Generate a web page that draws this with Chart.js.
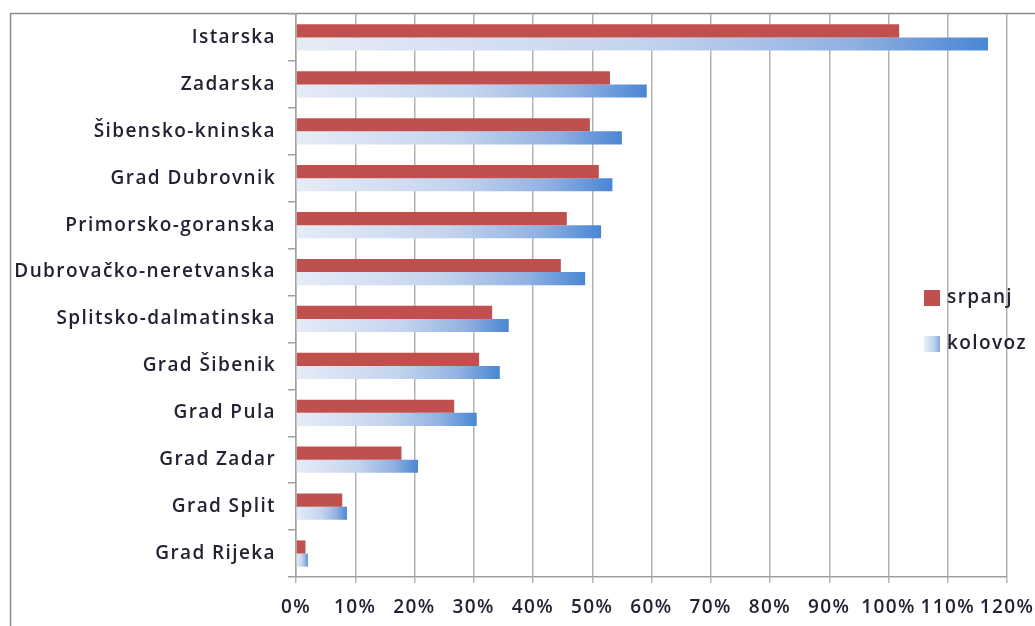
<!DOCTYPE html>
<html>
<head>
<meta charset="utf-8">
<script src="https://cdn.jsdelivr.net/npm/chart.js@4/dist/chart.umd.min.js"></script>
<style>
  body { margin: 0; background: #fff; }
  #wrap { width: 1035px; height: 626px; }
</style>
</head>
<body>
<div id="wrap"><canvas id="myChart" width="1035" height="626"></canvas></div>
<script>
// podaci s grafikona
var categories = ['Istarska', 'Zadarska', 'Šibensko-kninska', 'Grad Dubrovnik', 'Primorsko-goranska',
    'Dubrovačko-neretvanska', 'Splitsko-dalmatinska', 'Grad Šibenik', 'Grad Pula', 'Grad Zadar',
    'Grad Split', 'Grad Rijeka'];
var srpanj = [101.8, 53.0, 49.6, 51.1, 45.7, 44.7, 33.1, 30.9, 26.7, 17.8, 7.8, 1.6];
var kolovoz = [116.8, 59.2, 55.0, 53.4, 51.5, 48.8, 35.9, 34.4, 30.5, 20.6, 8.6, 2.0];
var seriesNames = ['srpanj', 'kolovoz'];
var xTicks = [0, 10, 20, 30, 40, 50, 60, 70, 80, 90, 100, 110, 120];

var FONT = '"Open Sans"';
var FSIZE = 19;
var FWEIGHT = 600;
var SPACING = '1.4px';
var textColor = '#222233';
var red = '#C0504D';

function blueGradient(ctx, x0, x1) {
    var g = ctx.createLinearGradient(x0, 0, x1, 0);
    g.addColorStop(0, '#e6ecf7');
    g.addColorStop(0.5, '#c4d4ee');
    g.addColorStop(0.8, '#91b1e1');
    g.addColorStop(1, '#4a86d4');
    return g;
}

// razmak slova (tekst je u originalu dosta širok)
var spacing = {
    id: 'spacing',
    beforeUpdate: function (chart) { chart.ctx.letterSpacing = SPACING; },
    beforeDraw: function (chart) { chart.ctx.letterSpacing = SPACING; }
};

// okvir oko grafikona
var frame = {
    id: 'frame',
    beforeDraw: function (chart) {
        var c = chart.ctx;
        c.save();
        c.fillStyle = '#fff';
        c.fillRect(0, 0, chart.width, chart.height);
        c.strokeStyle = '#8a8a8a';
        c.lineWidth = 1.5;
        c.beginPath();
        c.moveTo(10.5, chart.height);
        c.lineTo(10.5, 13.5);
        c.lineTo(chart.width, 13.5);
        c.stroke();
        c.restore();
    }
};

// legenda unutar područja grafikona
var legendBox = {
    id: 'legendBox',
    afterDraw: function (chart) {
        var c = chart.ctx;
        c.save();
        var x = 924, ys = [298, 344];
        c.font = FWEIGHT + ' ' + FSIZE + 'px ' + FONT;
        c.textBaseline = 'middle';
        for (var i = 0; i < seriesNames.length; i++) {
            var y = ys[i];
            if (i === 0) {
                c.fillStyle = red;
            } else {
                var g = c.createLinearGradient(x, 0, x + 16, 0);
                g.addColorStop(0, '#e8eef8');
                g.addColorStop(0.6, '#c2d3ee');
                g.addColorStop(1, '#84a8de');
                c.fillStyle = g;
            }
            c.fillRect(x, y - 8, 16, 16);
            c.fillStyle = textColor;
            c.fillText(seriesNames[i], x + 23, y);
        }
        c.restore();
    }
};

var data = {
    labels: categories,
    datasets: [{
        label: seriesNames[0],
        data: srpanj,
        backgroundColor: red,
        categoryPercentage: 0.56,
        barPercentage: 1.0
    }, {
        label: seriesNames[1],
        data: kolovoz,
        backgroundColor: function (context) {
            var chart = context.chart;
            if (!chart.chartArea) return '#4a86d4';
            var xs = chart.scales.x;
            var x0 = xs.getPixelForValue(0);
            var x1 = xs.getPixelForValue(context.raw || 0);
            if (x1 - x0 < 1) x1 = x0 + 1;
            return blueGradient(chart.ctx, x0, x1);
        },
        categoryPercentage: 0.56,
        barPercentage: 1.0
    }]
};

var options = {
    indexAxis: 'y',
    responsive: false,
    animation: false,
    devicePixelRatio: 1,
    layout: { padding: { top: 14, right: 28, left: 0, bottom: 0 } },
    plugins: {
        legend: { display: false },
        tooltip: { enabled: false }
    },
    scales: {
        x: {
            min: 0,
            max: 120,
            afterBuildTicks: function (scale) {
                scale.ticks = xTicks.map(function (v) { return { value: v }; });
            },
            ticks: {
                callback: function (v) { return v + '%'; },
                font: { family: FONT, size: FSIZE, weight: FWEIGHT },
                color: textColor,
                padding: 13,
                maxRotation: 0,
                autoSkip: false
            },
            grid: { color: '#b4b4b4', lineWidth: 1.5, tickLength: 6 },
            border: { color: '#a0a0a0', width: 1.5 },
            afterFit: function (scale) {
                scale.height = 49;
                scale.paddingLeft = 0;
                scale.paddingRight = 0;
            }
        },
        y: {
            grid: { offset: true, drawOnChartArea: false, tickLength: 8, color: '#a0a0a0', lineWidth: 1.5 },
            border: { color: '#a0a0a0', width: 1.5 },
            ticks: {
                font: { family: FONT, size: FSIZE, weight: FWEIGHT },
                color: textColor,
                padding: 12
            },
            afterFit: function (scale) {
                scale.width = 296;
                scale.paddingTop = 0;
                scale.paddingBottom = 0;
            }
        }
    }
};

var ctx = document.getElementById('myChart').getContext('2d');
var myChart = new Chart(ctx, {
    type: 'bar',
    data: data,
    options: options,
    plugins: [spacing, frame, legendBox]
});
</script>
</body>
</html>
